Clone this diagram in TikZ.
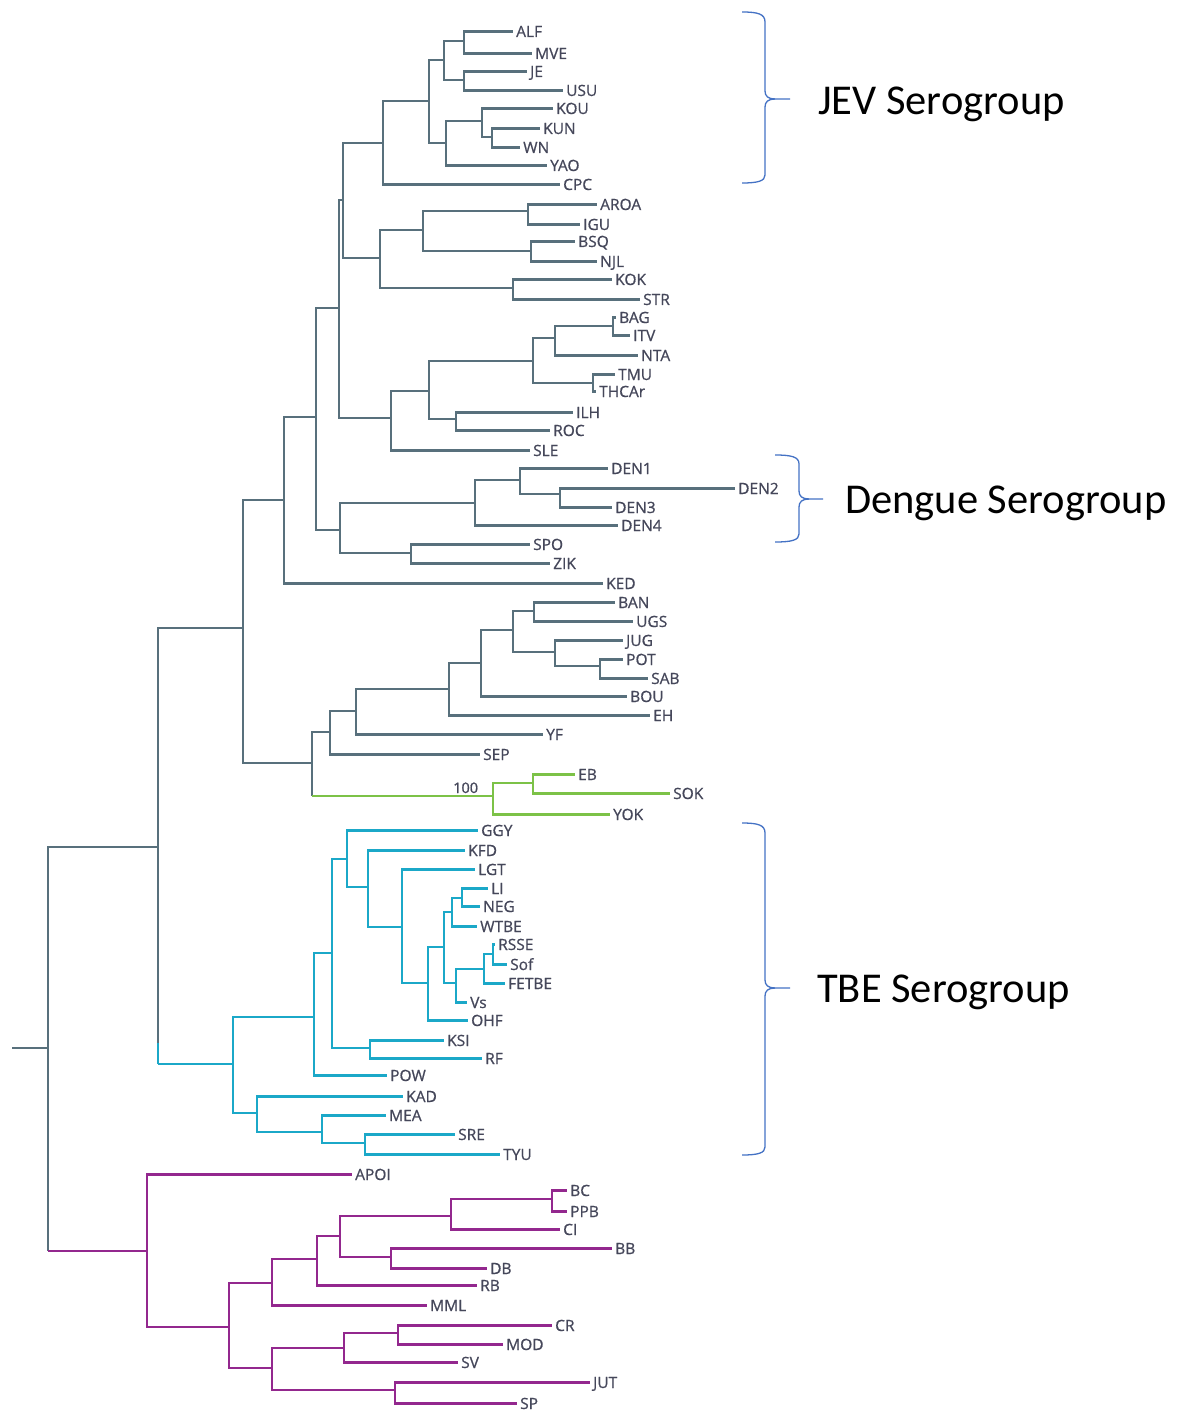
\documentclass[tikz,border=0pt]{standalone}
\usepackage{fontspec}
\setmainfont{Open Sans}
\newfontfamily\labfont[FakeBold=0.8]{Open Sans}
\newfontfamily\calibri{Carlito}
\definecolor{trgrey}{HTML}{58707C}
\definecolor{trgreen}{HTML}{7CC247}
\definecolor{trcyan}{HTML}{1BA8C8}
\definecolor{trmag}{HTML}{93288E}
\definecolor{labtext}{HTML}{45475A}
\definecolor{bracecol}{HTML}{4472C4}
\begin{document}
\begin{tikzpicture}[x=1pt,y=-1pt,
  gr/.style={line width=2.9pt, draw=trgrey},
  gn/.style={line width=2.9pt, draw=trgreen},
  cy/.style={line width=2.9pt, draw=trcyan},
  mg/.style={line width=2.9pt, draw=trmag},
  lf/.style={anchor=west, inner xsep=3pt, inner ysep=0pt, text height=11pt, text depth=0pt,
    yshift=-1.5pt, font=\labfont\fontsize{15.5}{16}\selectfont, text=labtext},
  brace/.style={draw=bracecol, line width=1.3pt},
  sero/.style={anchor=base west, inner sep=0pt, font=\calibri\fontsize{42.5}{50}\selectfont, text=black}]
\useasboundingbox (0,0) rectangle (1179,1412);

% ---------- internal nodes ----------
\coordinate (root) at (12,1048);
\coordinate (n48) at (48,1048);
\coordinate (n158) at (158,847);
\coordinate (n243) at (243,628);
\coordinate (n284) at (284,500);
\coordinate (n316) at (316,417);
\coordinate (n339) at (339,308);
\coordinate (n343) at (343,200);
\coordinate (n383) at (383,143);
\coordinate (n429) at (429,101);
\coordinate (n444) at (444,60);
\coordinate (n464a) at (464,41);
\coordinate (n464b) at (464,80);
\coordinate (n446) at (446,143);
\coordinate (n482) at (482,121);
\coordinate (n492) at (492,137);
\coordinate (n380) at (380,258);
\coordinate (n423) at (423,230);
\coordinate (n528) at (528,211);
\coordinate (n531) at (531,251);
\coordinate (n513) at (513,288);
\coordinate (n391) at (391,418);
\coordinate (n429b) at (429,391);
\coordinate (n533) at (533,361);
\coordinate (n555) at (555,338);
\coordinate (n613) at (613,326);
\coordinate (n593) at (593,383);
\coordinate (n456) at (456,419);
\coordinate (n340) at (340,530);
\coordinate (n475) at (475,503);
\coordinate (n520) at (520,480);
\coordinate (n560) at (560,494);
\coordinate (n411) at (411,553);
\coordinate (n312) at (312,763);
\coordinate (n330) at (330,732);
\coordinate (n356) at (356,711);
\coordinate (n449) at (449,689);
\coordinate (n481) at (481,663);
\coordinate (n513b) at (513,630);
\coordinate (n534) at (534,611);
\coordinate (n555b) at (555,652);
\coordinate (n600) at (600,666);
\coordinate (g493) at (493,796);
\coordinate (g533) at (533,783);
\coordinate (cbend) at (158,1043);
\coordinate (c233) at (233,1064);
\coordinate (c314) at (314,1017);
\coordinate (c332) at (332,953);
\coordinate (c370) at (370,1048);
\coordinate (c347) at (347,859);
\coordinate (c368) at (368,887);
\coordinate (c402) at (402,927);
\coordinate (c428) at (428,983);
\coordinate (c444) at (444,947);
\coordinate (c452) at (452,912);
\coordinate (c462) at (462,898);
\coordinate (c456) at (456,983);
\coordinate (c484) at (484,969);
\coordinate (c493) at (493,954);
\coordinate (c257) at (257,1113);
\coordinate (c322) at (322,1132);
\coordinate (c365) at (365,1143);
\coordinate (m147) at (147,1251);
\coordinate (m229) at (229,1327);
\coordinate (m272a) at (272,1283);
\coordinate (m317) at (317,1259);
\coordinate (m340) at (340,1236);
\coordinate (m451) at (451,1216);
\coordinate (m552) at (552,1199);
\coordinate (m391) at (391,1257);
\coordinate (m272b) at (272,1368);
\coordinate (m344) at (344,1348);
\coordinate (m398) at (398,1333);
\coordinate (m395) at (395,1390);

% ---------- leaves ----------
\foreach \nm/\x/\y in {ALF/513/30, MVE/532/52, JE/527/70, USU/563/89, KOU/553/107, KUN/540/127,
  WN/520/146, YAO/547/164, CPC/560/183, AROA/597/203, IGU/580/223, BSQ/575/240, NJL/597/260,
  KOK/612/278, STR/640/298, BAG/616/316, ITV/630/334, NTA/638/354, TMU/615/373, THCAr/596/390,
  ILH/573/411, ROC/550/429, SLE/530/449, DEN1/608/467, DEN2/735/487, DEN3/612/506, DEN4/618/524,
  SPO/530/543, ZIK/550/562, KED/603/582, BAN/615/601, UGS/633/620, JUG/623/639, POT/623/658,
  SAB/648/677, BOU/627/695, EH/650/714, YF/543/733, SEP/480/753, EB/575/773, SOK/670/792,
  YOK/610/813, GGY/478/829, KFD/465/849, LGT/475/868, LI/488/887, NEG/480/905, WTBE/477/925,
  RSSE/495/943, Sof/507/963, FETBE/505/982, Vs/467/1001, OHF/468/1019, KSI/444/1039, RF/482/1057,
  POW/387/1074, KAD/403/1095, MEA/386/1114, SRE/455/1133, TYU/500/1153, APOI/352/1173,
  BC/567/1189, PPB/567/1210, CI/560/1228, BB/612/1247, DB/487/1267, RB/477/1284, MML/427/1304,
  CR/552/1324, MOD/503/1343, SV/458/1361, JUT/590/1381, SP/517/1402}
  \node[lf] (\nm) at (\x,\y) {\nm};

% ---------- grey branches ----------
\draw[gr] (root) -- (n48);
\foreach \a/\b in {n48/n158, n158/n243, n243/n284, n243/n312, n284/n316, n284/KED.west,
  n316/n339, n316/n340, n339/n343, n339/n391, n343/n383, n343/n380, n383/n429, n383/CPC.west,
  n429/n444, n429/n446, n444/n464a, n444/n464b, n464a/ALF.west, n464a/MVE.west,
  n464b/JE.west, n464b/USU.west, n446/n482, n446/YAO.west, n482/KOU.west, n482/n492,
  n492/KUN.west, n492/WN.west, n380/n423, n380/n513, n423/n528, n423/n531,
  n528/AROA.west, n528/IGU.west, n531/BSQ.west, n531/NJL.west, n513/KOK.west, n513/STR.west,
  n391/n429b, n391/SLE.west, n429b/n533, n429b/n456, n533/n555, n533/n593, n555/n613,
  n555/NTA.west, n613/BAG.west, n613/ITV.west, n593/TMU.west, n593/THCAr.west,
  n456/ILH.west, n456/ROC.west, n340/n475, n340/n411, n475/n520, n475/DEN4.west,
  n520/DEN1.west, n520/n560, n560/DEN2.west, n560/DEN3.west, n411/SPO.west, n411/ZIK.west,
  n312/n330, n330/n356, n330/SEP.west, n356/n449, n356/YF.west, n449/n481, n449/EH.west,
  n481/n513b, n481/BOU.west, n513b/n534, n513b/n555b, n534/BAN.west, n534/UGS.west,
  n555b/JUG.west, n555b/n600, n600/POT.west, n600/SAB.west}
  \draw[gr] (\a) |- (\b);

% ---------- green branches ----------
\draw[gr] (n312) -- (n312 |- g493);
\draw[gn] (n312 |- g493) -- (g493);
\foreach \a/\b in {g493/g533, g493/YOK.west, g533/EB.west, g533/SOK.west}
  \draw[gn] (\a) |- (\b);
\node[anchor=base west, inner sep=0pt, font=\labfont\fontsize{14.5}{15}\selectfont, text=labtext] (bs100) at (453,793) {100};

% ---------- cyan branches ----------
\draw[gr] (n158) -- (cbend);
\draw[cy, line width=1.4pt] (cbend) -- (n158 |- c233);
\draw[cy] (n158 |- c233) -- (c233);
\foreach \a/\b in {c233/c314, c233/c257, c314/c332, c314/POW.west, c332/c347, c332/c370,
  c370/KSI.west, c370/RF.west, c347/GGY.west, c347/c368, c368/KFD.west, c368/c402,
  c402/LGT.west, c402/c428, c428/c444, c428/OHF.west, c444/c452, c444/c456,
  c452/c462, c452/WTBE.west, c462/LI.west, c462/NEG.west, c456/c484, c456/Vs.west,
  c484/c493, c484/FETBE.west, c493/RSSE.west, c493/Sof.west, c257/KAD.west, c257/c322,
  c322/MEA.west, c322/c365, c365/SRE.west, c365/TYU.west}
  \draw[cy] (\a) |- (\b);

% ---------- magenta branches ----------
\draw[gr] (n48) -- (n48 |- m147);
\draw[mg] (n48 |- m147) -- (m147);
\foreach \a/\b in {m147/APOI.west, m147/m229, m229/m272a, m229/m272b, m272a/m317,
  m272a/MML.west, m317/m340, m317/RB.west, m340/m451, m340/m391, m451/m552, m451/CI.west,
  m552/BC.west, m552/PPB.west, m391/BB.west, m391/DB.west, m272b/m344, m272b/m395,
  m344/m398, m344/SV.west, m398/CR.west, m398/MOD.west, m395/JUT.west, m395/SP.west}
  \draw[mg] (\a) |- (\b);

% ---------- braces and serogroup labels ----------
\draw[brace] (742,12) .. controls (758,12) and (765,14) .. (765,22) -- (765,91)
  .. controls (765,96) and (768,99) .. (775,99) -- (790,99);
\draw[brace] (775,99) .. controls (768,99) and (765,102) .. (765,107) -- (765,175)
  .. controls (765,181) and (758,183) .. (742,183);
\node[sero] (jev) at (818,115) {JEV Serogroup};

\draw[brace] (775,455) .. controls (792,455) and (799,457) .. (799,464) -- (799,491)
  .. controls (799,496) and (802,499) .. (809,499) -- (823,499);
\draw[brace] (809,499) .. controls (802,499) and (799,502) .. (799,507) -- (799,534)
  .. controls (799,540) and (792,542) .. (775,542);
\node[sero] (den) at (845,513) {Dengue Serogroup};

\draw[brace] (742,823) .. controls (758,823) and (765,825) .. (765,833) -- (765,980)
  .. controls (765,985) and (768,988) .. (775,988) -- (790,988);
\draw[brace] (775,988) .. controls (768,988) and (765,991) .. (765,996) -- (765,1147)
  .. controls (765,1153) and (758,1155) .. (742,1155);
\node[sero] (tbe) at (817,1002) {TBE Serogroup};
\end{tikzpicture}
\end{document}
